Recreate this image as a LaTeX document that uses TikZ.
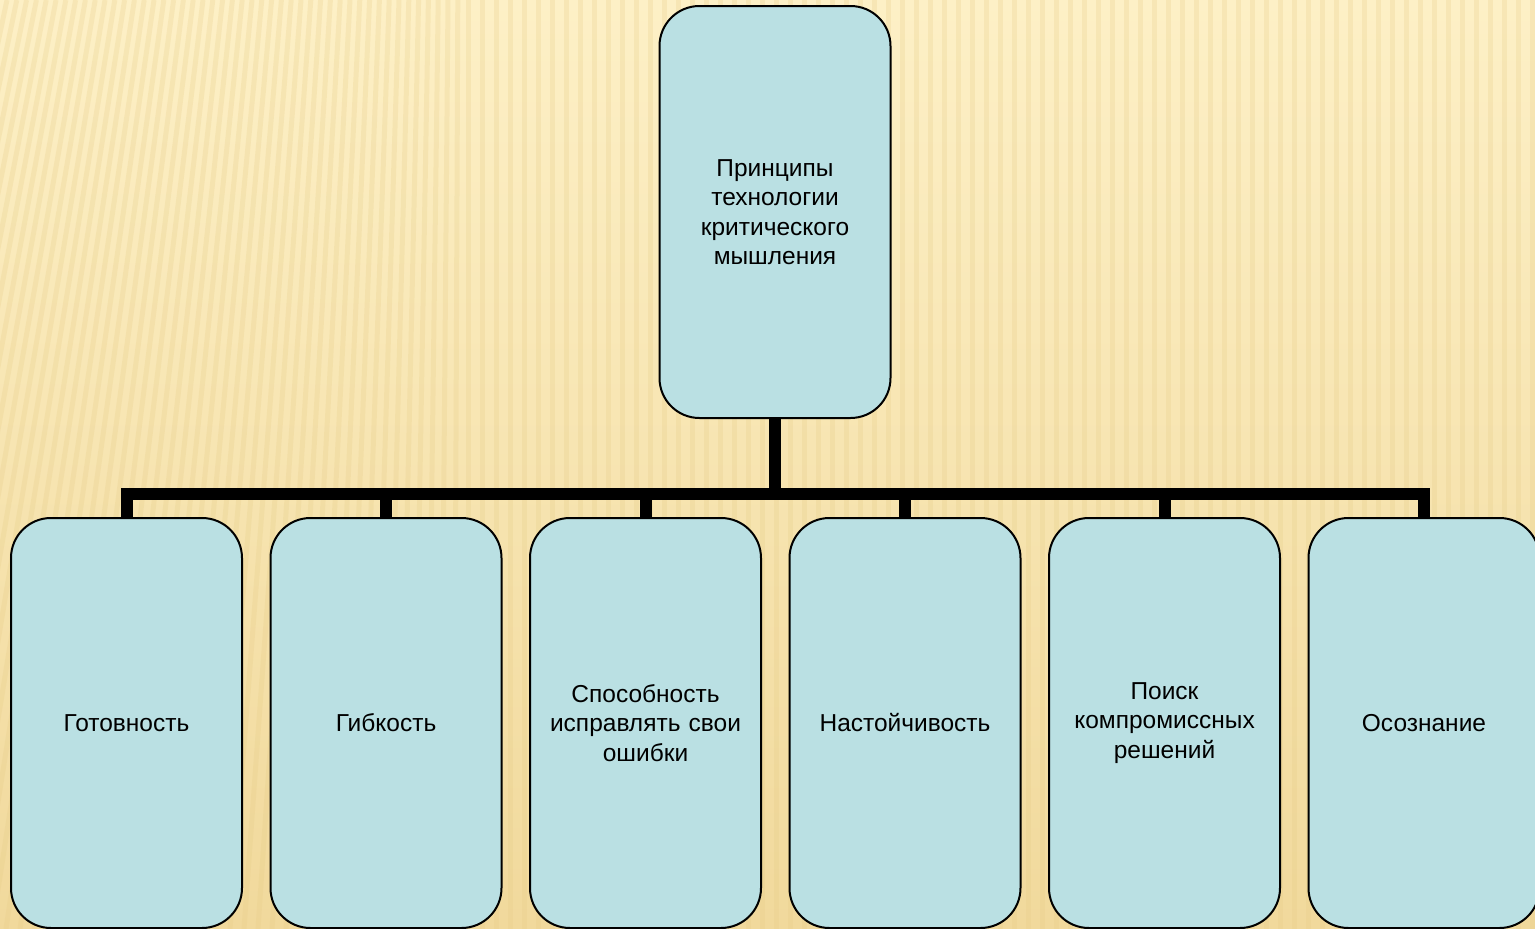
\documentclass[tikz,border=0pt]{standalone}
\usepackage{fontspec}
\setmainfont{Liberation Sans}
\definecolor{bgtop}{HTML}{FDF0C6}
\definecolor{bgbot}{HTML}{F1D99C}
\definecolor{stripe}{HTML}{E6CC86}
\definecolor{boxfill}{HTML}{BAE0E3}
\tikzset{
  box/.style={draw=black, line width=2pt, fill=boxfill, rounded corners=40pt,
    minimum width=231pt, minimum height=410pt, inner sep=4pt, align=center,
    text width=220pt, font=\fontsize{24.5}{29.5}\selectfont},
  conn/.style={draw=black, line width=12pt},
}
\begin{document}
\begin{tikzpicture}[x=1pt,y=-1pt]
\useasboundingbox (0,0) rectangle (1535,929);
\clip (0,0) rectangle (1535,929);
\shade[top color=bgtop, bottom color=bgbot] (0,0) rectangle (1535,929);
\foreach \x in {-400,-386,...,1600}{
  \pgfmathsetmacro\dx{max(0,260-0.3*(\x+400))}
  \draw[stripe, line width=5pt, opacity=0.25] (\x,929) -- (\x+\dx,0);
}
\node[box, minimum height=412pt] (top) at (775,212) {Принципы\\технологии\\критического\\мышления};
\node[box] (b1) at (126.5,723) {Готовность};
\node[box] (b2) at (386,723) {Гибкость};
\node[box] (b3) at (645.5,723) {Способность\\исправлять свои\\ошибки};
\node[box] (b4) at (905,723) {Настойчивость};
\node[box] (b5) at (1164.5,723) {Поиск\\компромиссных\\решений};
\node[box] (b6) at (1424,723) {Осознание};
\coordinate (bus) at (0,494);
\draw[conn] (top.south) -- (top.south |- bus);
\draw[conn, line cap=rect] (b1.north |- bus) -- (b6.north |- bus);
\foreach \n in {b1,b2,b3,b4,b5,b6}{
  \draw[conn] (\n.north |- bus) -- (\n.north);
}
\end{tikzpicture}
\end{document}
